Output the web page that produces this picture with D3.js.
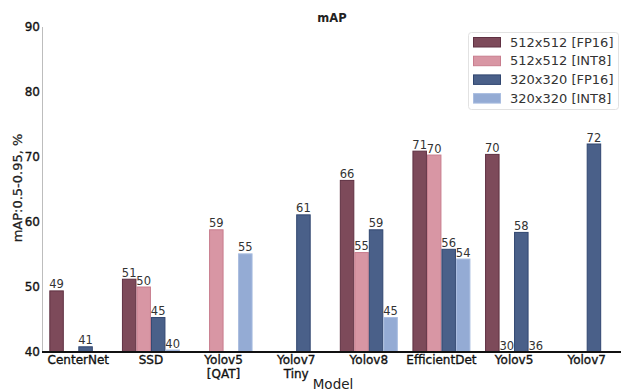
<!DOCTYPE html>
<html><head><meta charset="utf-8">
<script src="https://cdn.jsdelivr.net/npm/d3@7"></script>
<style>
html,body{margin:0;padding:0;background:#fff;}
svg{display:block;font-family:"DejaVu Sans",sans-serif;}
</style></head>
<body><svg id="c" width="621" height="391"></svg>
<script>
const categories = ["CenterNet","SSD","Yolov5\n[QAT]","Yolov7\nTiny","Yolov8","EfficientDet","Yolov5","Yolov7"];
const seriesNames = ["512x512 [FP16]","512x512 [INT8]","320x320 [FP16]","320x320 [INT8]"];
const fp16_512 = [49.4, 51.2, null, null, 66.4, 70.9, 70.4, null];
const int8_512 = [null, 50.0, 58.8, null, 55.3, 70.3, 30.0, null];
const fp16_320 = [40.8, 45.3, null, 61.1, 58.8, 55.8, 58.4, 72.0];
const int8_320 = [null, 40.3, 55.1, null, 45.3, 54.3, 36.0, null];
const yTicks = [40, 50, 60, 70, 80, 90];
const colors = ["#7d4a5a","#d896a4","#4a6089","#94abd4"];
const strokes = ["#5f3042","#c87d8e","#304670","#a9bde0"];

const series = [fp16_512, int8_512, fp16_320, int8_320];
const svg = d3.select("#c");
const y = d3.scaleLinear().domain([40, 90]).range([352, 27]);
const x = d3.scaleBand().domain(categories).range([42, 623]);
const slot = 14.5, bw = 13.5;

// left spine
svg.append("line").attr("x1",42.5).attr("x2",42.5).attr("y1",y(90)).attr("y2",y(40)).attr("stroke","#bdbdbd").attr("stroke-width",1);

// y axis labels
const ya = svg.append("g").attr("transform","translate(42,0)")
  .call(d3.axisLeft(y).tickValues(yTicks).tickSize(0).tickPadding(2).tickFormat(d3.format("d")));
ya.select(".domain").remove();
ya.selectAll("text").attr("font-size",12).attr("fill","#111").attr("stroke","#111").attr("stroke-width",0.35).attr("font-family","DejaVu Sans");

// bars
series.forEach((vals, si) => {
  const g = svg.append("g");
  vals.forEach((v, ci) => {
    if (v === null) return;
    const cx = x(categories[ci]) + x.bandwidth()/2;
    const bx = cx + (si - 2) * slot + 0.5;
    const top = y(Math.max(v, 40));
    if (v > 40) {
      g.append("rect").attr("x", bx).attr("y", top).attr("width", bw).attr("height", y(40) - top)
        .attr("fill", colors[si]).attr("stroke", strokes[si]).attr("stroke-width", 1);
    }
    g.append("text").attr("x", bx + bw/2).attr("y", top - 2.5).attr("text-anchor","middle")
      .attr("font-size", 11.5).attr("fill","#333").text(d3.format(".0f")(v));
  });
});

// bottom spine
svg.append("line").attr("x1",42).attr("x2",621).attr("y1",352).attr("y2",352).attr("stroke","#111").attr("stroke-width",2);

// x tick labels
categories.forEach(c => {
  const cx = x(c) + x.bandwidth()/2;
  const lines = c.split("\n");
  const t = svg.append("text").attr("text-anchor","middle").attr("font-size",12)
    .attr("fill","#111").attr("stroke","#111").attr("stroke-width",0.35);
  lines.forEach((l, i) => t.append("tspan").attr("x", cx).attr("y", 364 + i*14).text(l));
});

// axis titles
svg.append("text").attr("x",333).attr("y",389).attr("text-anchor","middle").attr("font-size",13.5).attr("fill","#222").text("Model");
svg.append("text").attr("transform","translate(22,188) rotate(-90)").attr("text-anchor","middle").attr("font-size",13)
  .attr("fill","#222").attr("stroke","#222").attr("stroke-width",0.25).text("mAP:0.5-0.95, %");
svg.append("text").attr("x",332).attr("y",22).attr("text-anchor","middle").attr("font-size",11.5).attr("font-weight","bold").attr("fill","#222").text("mAP");

// legend
const lg = svg.append("g");
lg.append("rect").attr("x",468.5).attr("y",32.5).attr("width",150).attr("height",77).attr("rx",3)
  .attr("fill","#fff").attr("stroke","#e2e2e2");
seriesNames.forEach((n, i) => {
  const yy = 42 + i*18.7;
  lg.append("rect").attr("x",473.5).attr("y",yy-4.5).attr("width",27).attr("height",9.5)
    .attr("fill",colors[i]).attr("stroke",strokes[i]).attr("stroke-width",1);
  lg.append("text").attr("x",510).attr("y",yy+4.5).attr("font-size",13).attr("fill","#333").text(n);
});
</script></body></html>
